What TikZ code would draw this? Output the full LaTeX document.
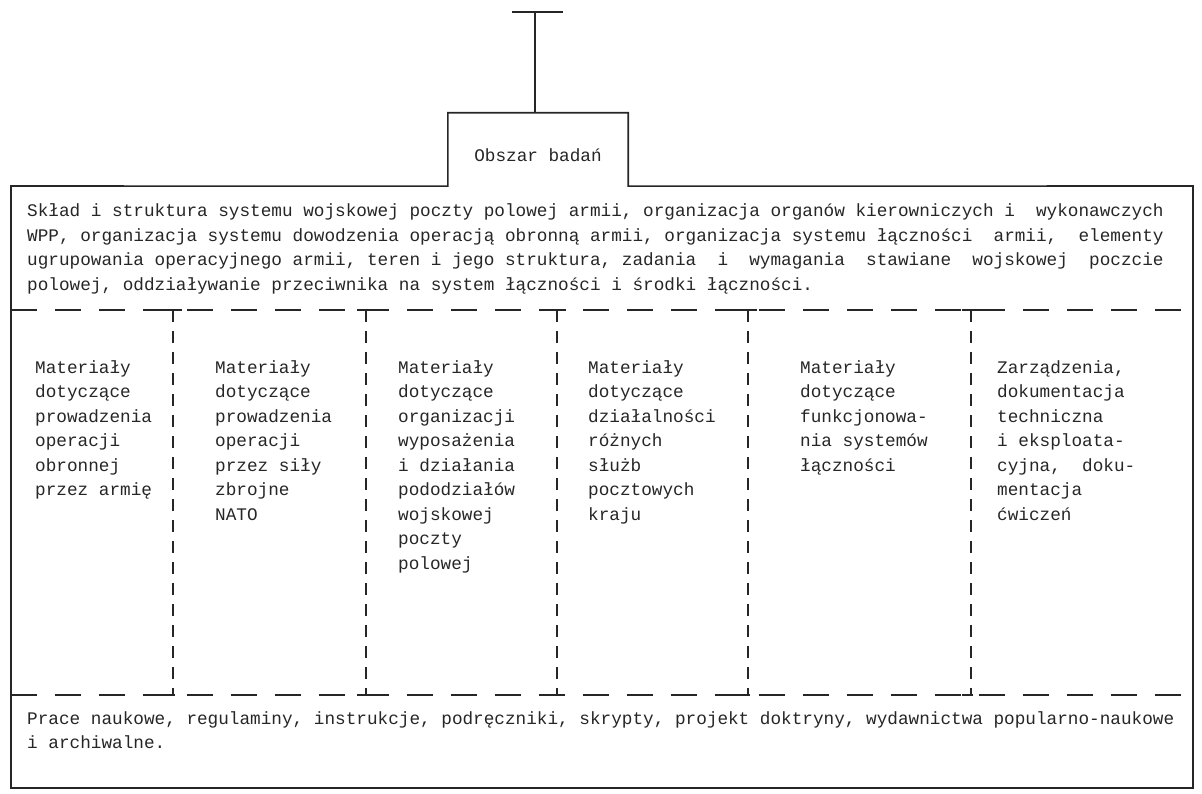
\documentclass[tikz,border=0pt]{standalone}
\usepackage{fontspec}
\newfontfamily\dotfont{Liberation Mono}[WordSpace={1,0,0}]
\tikzset{
  frameline/.style={line width=1.6pt, draw=black!85},
  hdash/.style={line width=1.4pt, draw=black!85, dash pattern=on 26pt off 18pt},
  vdash/.style={line width=1.4pt, draw=black!85, dash pattern=on 12pt off 9pt},
  txt/.style={anchor=base west, inner sep=0pt, text=black!85,
              font=\dotfont\fontsize{17.7}{24}\selectfont},
}
\begin{document}
\begin{tikzpicture}[x=1pt,y=-1pt]
\useasboundingbox (0,0) rectangle (1202,794);

% root bar and stem
\coordinate (rootL) at (512,12);
\coordinate (rootR) at (563,12);
\coordinate (rootM) at (535,12);
\draw[frameline] (rootL) -- (rootR);

% "Obszar badan" tab on top of the main frame
\node[minimum width=180pt, minimum height=73pt, inner sep=0pt] (area) at (538,149.5) {};
\node[txt, anchor=base] (areatext) at (538,162) {Obszar badań};
\draw[frameline] (rootM) -- (rootM |- area.north);

% main frame
\coordinate (fTL) at (11,186);
\coordinate (fTR) at (1193,186);
\coordinate (fBR) at (1193,788);
\coordinate (fBL) at (11,788);
\draw[frameline] (fTL) -- (area.south west) -- (area.north west) -- (area.north east)
  -- (area.south east) -- (fTR) -- (fBR) -- (fBL) -- cycle;

% top block
\foreach \t [count=\i from 0] in {
  {Skład i struktura systemu wojskowej poczty polowej armii, organizacja organów kierowniczych i~~wykonawczych},
  {WPP, organizacja systemu dowodzenia operacją obronną armii, organizacja systemu łączności~~armii,~~elementy},
  {ugrupowania operacyjnego armii, teren i jego struktura, zadania~~i~~wymagania~~stawiane~~wojskowej~~poczcie},
  {polowej, oddziaływanie przeciwnika na system łączności i środki łączności.}}
  \node[txt] (top\i) at (27,{217+\i*24.5}) {\t};

% dashed separators
\coordinate (d1L) at (11,310);
\coordinate (d1R) at (1193,310);
\coordinate (d2L) at (11,695);
\coordinate (d2R) at (1193,695);
\draw[hdash] (d1L) -- (d1R);
\draw[hdash] (d2L) -- (d2R);

\foreach \x [count=\k] in {173,366,557,748,971} {
  \coordinate (vt\k) at (\x,310);
  \coordinate (vb\k) at (\x,695);
  \draw[vdash] (vt\k) -- (vb\k);
  \draw[frameline] ([xshift=-9pt]vt\k) -- ([xshift=9pt]vt\k);
  \draw[frameline] ([xshift=-9pt]vb\k) -- ([xshift=2pt]vb\k);
}

% columns
\foreach \t [count=\i from 0] in {Materiały, dotyczące, prowadzenia, operacji, obronnej, przez armię}
  \node[txt] (ca\i) at (35,{373+\i*24.5}) {\t};
\foreach \t [count=\i from 0] in {Materiały, dotyczące, prowadzenia, operacji, przez siły, zbrojne, NATO}
  \node[txt] (cb\i) at (215,{373+\i*24.5}) {\t};
\foreach \t [count=\i from 0] in {Materiały, dotyczące, organizacji, wyposażenia, i działania, pododziałów, wojskowej, poczty, polowej}
  \node[txt] (cc\i) at (398,{373+\i*24.5}) {\t};
\foreach \t [count=\i from 0] in {Materiały, dotyczące, działalności, różnych, służb, pocztowych, kraju}
  \node[txt] (cd\i) at (588,{373+\i*24.5}) {\t};
\foreach \t [count=\i from 0] in {Materiały, dotyczące, funkcjonowa-, nia systemów, łączności}
  \node[txt] (ce\i) at (800,{373+\i*24.5}) {\t};
\foreach \t [count=\i from 0] in {{Zarządzenia,}, dokumentacja, techniczna, i eksploata-, {cyjna,~~doku-}, mentacja, ćwiczeń}
  \node[txt] (cf\i) at (997,{373+\i*24.5}) {\t};

% bottom block
\node[txt] (bot0) at (27,724) {Prace naukowe, regulaminy, instrukcje, podręczniki, skrypty, projekt doktryny, wydawnictwa popularno-naukowe};
\node[txt] (bot1) at (27,748.5) {i archiwalne.};
\end{tikzpicture}
\end{document}
